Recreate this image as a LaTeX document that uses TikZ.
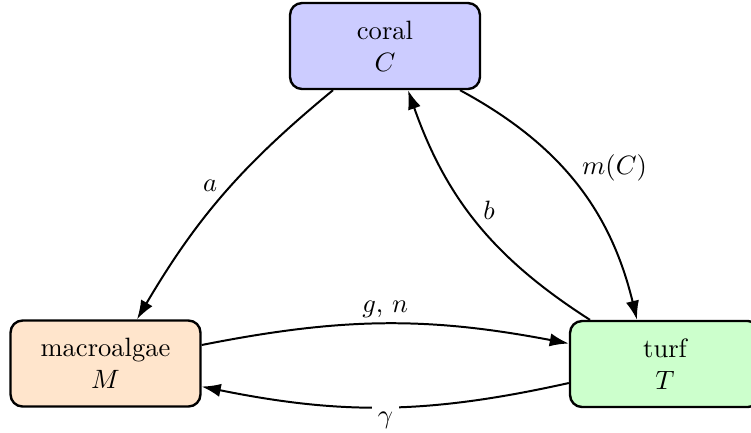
\documentclass[tikz,border=0pt]{standalone}
\usetikzlibrary{arrows.meta,calc}
\begin{document}
\begin{tikzpicture}[x=0.377pt,y=-0.377pt,
  box/.style={draw, line width=0.9pt, rounded corners=4.5pt, minimum width=71.6pt, minimum height=32.4pt, align=center, inner sep=0pt},
  link/.style={-{Latex[length=7.2pt,width=5pt]}, line width=0.75pt},
  lab/.style={inner sep=2pt}]
\useasboundingbox (0,0) rectangle (751,432);
\node[box, fill=blue!20] (coral) at (385,46) {coral\\$C$};
\node[box, fill=orange!20] (macro) at (105.5,363.5) {macroalgae\\$M$};
\node[box, fill=green!20] (turf) at (665,364) {turf\\$T$};
\draw[link] ($(coral.south)+(-52,0)$) to[bend right=10] node[lab, midway, above left, yshift=-1pt] {$a$} ($(macro.north)+(31.5,0)$);
\draw[link] ($(coral.south)+(75,0)$) to[bend left=24] node[lab, midway, above right, yshift=-1.5pt] {$m(C)$} ($(turf.north)+(-28,0)$);
\draw[link] ($(turf.north)+(-75,0)$) to[bend left=19] node[lab, midway, above right, yshift=-1.2pt] {$b$} ($(coral.south)+(23,0)$);
\draw[link] ($(macro.east)+(0,-18.5)$) to[bend left=11] node[lab, midway, above] {$g$, $n$} ($(turf.west)+(0,-20.5)$);
\draw[link] ($(turf.west)+(0,19)$) to[bend left=12] node[midway, below, fill=white, inner sep=2.3pt, yshift=0.8pt] {$\gamma$} ($(macro.east)+(0,23)$);
\end{tikzpicture}
\end{document}
